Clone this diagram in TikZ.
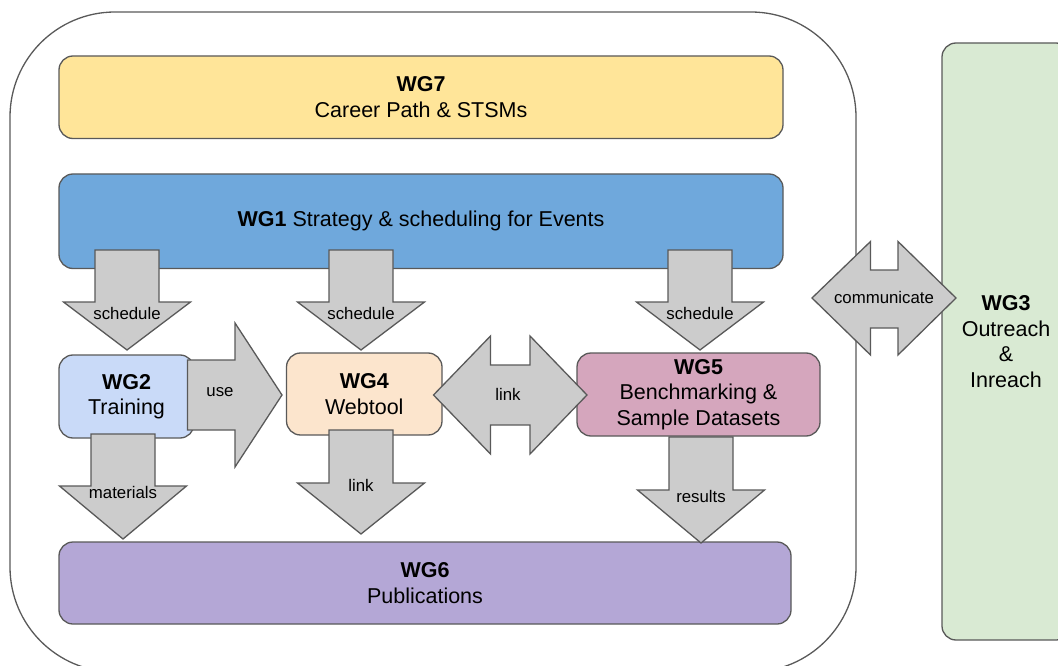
\documentclass[tikz,border=0pt]{standalone}
\usepackage{fontspec}
\setmainfont{Liberation Sans}
\usetikzlibrary{calc}
\definecolor{edge}{HTML}{595959}
\definecolor{arrowgray}{HTML}{CCCCCC}
\definecolor{wgyellow}{HTML}{FFE599}
\definecolor{wgblue}{HTML}{6FA8DC}
\definecolor{wglightblue}{HTML}{C9DAF8}
\definecolor{wgpeach}{HTML}{FCE5CD}
\definecolor{wgpink}{HTML}{D5A6BD}
\definecolor{wgpurple}{HTML}{B4A7D6}
\definecolor{wggreen}{HTML}{D9EAD3}

\begin{document}
\begin{tikzpicture}[x=1pt, y=-1pt,
	wg/.style={draw=edge, line width=1.3pt, rounded corners=14pt, align=center,
		inner sep=0pt, font=\fontsize{21.5}{25.5}\selectfont},
	blockarrow/.style={draw=edge, fill=arrowgray, line width=1.3pt, line join=miter},
	tag/.style={inner sep=0pt, font=\fontsize{16.8}{19}\selectfont}]

	\useasboundingbox (0,0) rectangle (1058,666);

	% ---- cornice esterna ----
	\draw[edge, line width=1.3pt, rounded corners=105pt] (10,12) rectangle (856,672);

	% ---- gruppi di lavoro ----
	\node[wg, fill=wgyellow, minimum width=724pt, minimum height=82.5pt]
	(wg7) at (421,97.25) {\textbf{WG7}\\ Career Path \& STSMs};
	\node[wg, fill=wgblue, minimum width=724pt, minimum height=94.5pt]
	(wg1) at (421,221.25) {\textbf{WG1} Strategy \& scheduling for Events};
	\node[wg, fill=wglightblue, minimum width=135pt, minimum height=83pt]
	(wg2) at (126.5,396.5) {\textbf{WG2}\\ Training};
	\node[wg, fill=wgpeach, minimum width=155.5pt, minimum height=82pt]
	(wg4) at (364.25,394) {\textbf{WG4}\\ Webtool};
	\node[wg, fill=wgpink, minimum width=243pt, minimum height=83pt]
	(wg5) at (698.5,394.5) {\textbf{WG5}\\ Benchmarking \&\\ Sample Datasets};
	\node[wg, fill=wgpurple, minimum width=732pt, minimum height=82pt]
	(wg6) at (425,583) {\textbf{WG6}\\ Publications};
	\node[wg, fill=wggreen, minimum width=128pt, minimum height=597pt]
	(wg3) at (1006,341.5) {\textbf{WG3}\\ Outreach\\ \&\\ Inreach};

	% ---- frecce verso il basso ----
	\foreach \n/\cx/\ta/\tb/\tc/\txt/\ty in {
			schedA/127/250/302/350/schedule/313,
			schedB/361/250/302/350/schedule/313,
			schedC/700/250/302/350/schedule/313,
			materials/123/434/486/539/materials/492,
			linkdown/361/430/483/534/link/485,
			results/701/437/490/543/results/496}{
			\draw[blockarrow] (\cx-32,\ta) -- (\cx+32,\ta) -- (\cx+32,\tb) -- (\cx+63.5,\tb)
			-- (\cx,\tc) -- (\cx-63.5,\tb) -- (\cx-32,\tb) -- cycle;
			\node[tag] (\n) at (\cx,\ty) {\txt};
		}

	% ---- freccia "use" ----
	\draw[blockarrow] (187.5,360) -- (235,360) -- (235,323) -- (282,395)
	-- (235,467) -- (235,430) -- (187.5,430) -- cycle;
	\node[tag] (use) at (220,392.5) {use};

	% ---- frecce doppie ----
	\draw[blockarrow] (433.5,395) -- (490.5,336) -- (490.5,365) -- (530,365) -- (530,336)
	-- (587,395) -- (530,454) -- (530,425) -- (490.5,425) -- (490.5,454) -- cycle;
	\node[tag] (link) at (508,394) {link};

	\draw[blockarrow] (812,298) -- (870.5,241.5) -- (870.5,270) -- (898,270) -- (898,241.5)
	-- (956,298) -- (898,355) -- (898,328) -- (870.5,328) -- (870.5,355) -- cycle;
	\node[tag] (communicate) at (884,297) {communicate};

\end{tikzpicture}
\end{document}
